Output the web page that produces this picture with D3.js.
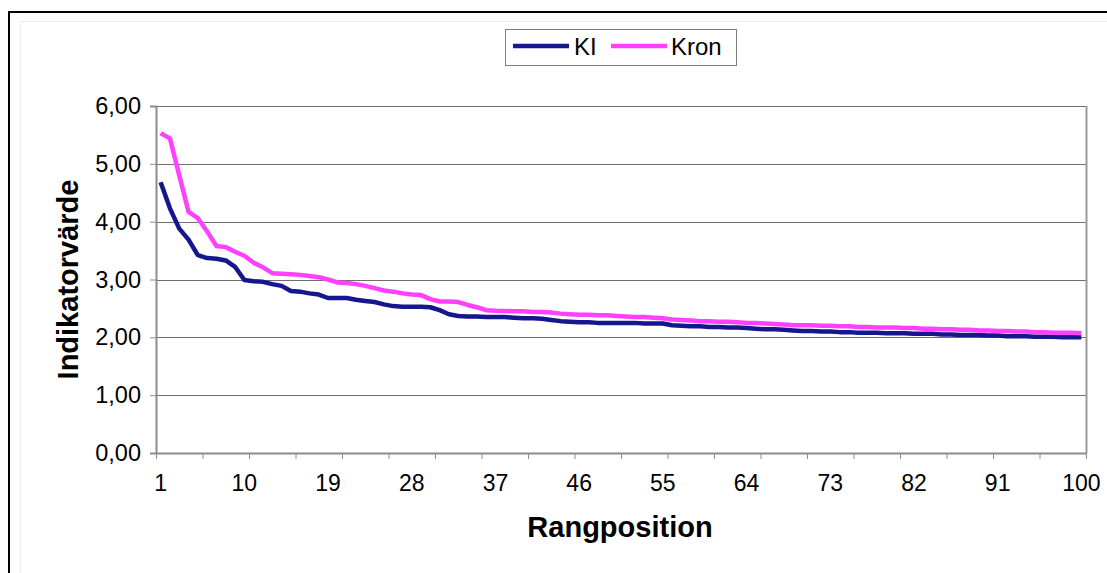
<!DOCTYPE html>
<html>
<head>
<meta charset="utf-8">
<script src="https://cdn.jsdelivr.net/npm/d3@7"></script>
<style>
  html, body { margin: 0; padding: 0; background: #fff; }
  svg { display: block; }
  text { font-family: "Liberation Sans", Arial, sans-serif; fill: #000; }
</style>
</head>
<body>
<svg id="chart" width="1107" height="573"></svg>
<script>
// Rank positions 1..100
const positions = d3.range(1, 101);

// Indicator value per rank position, series "KI"
const seriesKI = [
  4.68, 4.23, 3.88, 3.69, 3.42, 3.37, 3.36, 3.33, 3.22, 2.99,
  2.97, 2.96, 2.92, 2.89, 2.80, 2.79, 2.76, 2.74, 2.68, 2.68,
  2.68, 2.65, 2.63, 2.61, 2.57, 2.54, 2.53, 2.53, 2.53, 2.52,
  2.47, 2.40, 2.37, 2.36, 2.36, 2.35, 2.35, 2.35, 2.34, 2.33,
  2.33, 2.32, 2.30, 2.28, 2.27, 2.26, 2.26, 2.25, 2.25, 2.25,
  2.25, 2.25, 2.24, 2.24, 2.24, 2.21, 2.20, 2.19, 2.19, 2.18,
  2.18, 2.17, 2.17, 2.16, 2.15, 2.14, 2.14, 2.13, 2.12, 2.11,
  2.11, 2.10, 2.10, 2.09, 2.09, 2.08, 2.08, 2.08, 2.07, 2.07,
  2.07, 2.06, 2.06, 2.06, 2.05, 2.05, 2.04, 2.04, 2.04, 2.03,
  2.03, 2.02, 2.02, 2.02, 2.01, 2.01, 2.01, 2.00, 2.00, 2.00
];

// Indicator value per rank position, series "Kron"
const seriesKron = [
  5.53, 5.44, 4.80, 4.17, 4.06, 3.83, 3.58, 3.56, 3.48, 3.41,
  3.29, 3.21, 3.11, 3.10, 3.09, 3.08, 3.06, 3.04, 3.00, 2.95,
  2.94, 2.92, 2.89, 2.85, 2.81, 2.79, 2.76, 2.74, 2.73, 2.66,
  2.62, 2.62, 2.61, 2.56, 2.52, 2.47, 2.46, 2.455, 2.45, 2.45,
  2.44, 2.44, 2.43, 2.41, 2.40, 2.39, 2.39, 2.38, 2.38, 2.37,
  2.36, 2.35, 2.35, 2.34, 2.33, 2.31, 2.30, 2.29, 2.28, 2.28,
  2.27, 2.27, 2.26, 2.25, 2.25, 2.24, 2.23, 2.22, 2.21, 2.21,
  2.21, 2.20, 2.20, 2.19, 2.19, 2.18, 2.18, 2.17, 2.17, 2.17,
  2.16, 2.16, 2.15, 2.15, 2.14, 2.14, 2.13, 2.13, 2.12, 2.12,
  2.11, 2.11, 2.10, 2.10, 2.09, 2.09, 2.08, 2.08, 2.08, 2.07
];

const seriesNames = ["KI", "Kron"];
const yTickValues = [0, 1, 2, 3, 4, 5, 6];
const xLabelValues = [1, 10, 19, 28, 37, 46, 55, 64, 73, 82, 91, 100];
const xTickBoundaries = d3.range(0, 101, 5);

const colors = { KI: "#16168f", Kron: "#ff40ff" };

const svg = d3.select("#chart");
const plot = { left: 156, right: 1086, top: 106, bottom: 453 };

// Frame around the chart
svg.append("path")
  .attr("d", `M9,573 V12 H1107`)
  .attr("fill", "none").attr("stroke", "#000").attr("stroke-width", 2);
svg.append("path")
  .attr("d", `M20.5,573 V21.5 H1107`)
  .attr("fill", "none").attr("stroke", "#ececec").attr("stroke-width", 1);

// Scales
const x = d3.scaleBand().domain(positions).range([plot.left, plot.right]).padding(0);
const xBound = d3.scaleLinear().domain([0, 100]).range([plot.left, plot.right]);
const y = d3.scaleLinear().domain([0, 6]).range([plot.bottom, plot.top]);
const cx = d => x(d) + x.bandwidth() / 2;

const sv = d3.formatLocale({ decimal: ",", thousands: " ", grouping: [3], currency: ["", " kr"] });
const fmt = sv.format(".2f");

// Horizontal gridlines
svg.append("g")
  .selectAll("line")
  .data(yTickValues.filter(v => v > 0))
  .join("line")
  .attr("x1", plot.left).attr("x2", plot.right)
  .attr("y1", d => Math.round(y(d)) + 0.5).attr("y2", d => Math.round(y(d)) + 0.5)
  .attr("stroke", "#6e6e6e").attr("stroke-width", 1);

// Plot area right border
svg.append("line")
  .attr("x1", plot.right + 0.5).attr("x2", plot.right + 0.5)
  .attr("y1", plot.top).attr("y2", plot.bottom)
  .attr("stroke", "#9a9a9a").attr("stroke-width", 2);

// Y axis
const yAxis = svg.append("g")
  .attr("transform", `translate(${plot.left},0)`)
  .call(d3.axisLeft(y).tickValues(yTickValues).tickFormat(fmt).tickSize(6).tickPadding(9));
yAxis.select(".domain").attr("stroke", "#8c8c8c").attr("stroke-width", 2);
yAxis.selectAll(".tick line").attr("stroke", "#8c8c8c").attr("stroke-width", 1);
yAxis.selectAll(".tick text")
  .attr("font-family", "Liberation Sans, Arial, sans-serif")
  .attr("font-size", 23.5).attr("fill", "#000");

// X axis: tick marks on category boundaries every 5 positions
const xTicks = svg.append("g")
  .attr("transform", `translate(0,${plot.bottom})`)
  .call(d3.axisBottom(xBound).tickValues(xTickBoundaries).tickFormat("").tickSizeInner(6).tickSizeOuter(0));
xTicks.select(".domain").attr("stroke", "#8c8c8c").attr("stroke-width", 2);
xTicks.selectAll(".tick line").attr("stroke", "#8c8c8c").attr("stroke-width", 1);

// X axis labels centred on their categories
const xLabels = svg.append("g")
  .attr("transform", `translate(0,${plot.bottom})`)
  .call(d3.axisBottom(x).tickValues(xLabelValues).tickSize(0).tickPadding(22));
xLabels.select(".domain").remove();
xLabels.selectAll(".tick text")
  .attr("font-family", "Liberation Sans, Arial, sans-serif")
  .attr("font-size", 23).attr("fill", "#000");

// Series lines
const line = d3.line().x((d, i) => cx(positions[i])).y(d => y(d));
[["KI", seriesKI], ["Kron", seriesKron]].forEach(([name, vals]) => {
  svg.append("path")
    .datum(vals)
    .attr("d", line)
    .attr("fill", "none")
    .attr("stroke", colors[name])
    .attr("stroke-width", 4.5)
    .attr("stroke-linejoin", "round");
});

// Axis titles
svg.append("text")
  .attr("x", (plot.left + plot.right) / 2 - 1).attr("y", 537)
  .attr("text-anchor", "middle")
  .attr("font-size", 29).attr("font-weight", "bold")
  .text("Rangposition");

svg.append("text")
  .attr("transform", `translate(78,${(plot.top + plot.bottom) / 2}) rotate(-90)`)
  .attr("text-anchor", "middle")
  .attr("font-size", 29).attr("font-weight", "bold")
  .text("Indikatorvärde");

// Legend
const legend = svg.append("g");
legend.append("rect")
  .attr("x", 505.5).attr("y", 29.5).attr("width", 231).attr("height", 36)
  .attr("fill", "#fff").attr("stroke", "#808080").attr("stroke-width", 1);
const legendItems = [
  { name: seriesNames[0], x1: 513, x2: 569, tx: 574 },
  { name: seriesNames[1], x1: 611, x2: 667, tx: 671 }
];
legendItems.forEach(it => {
  legend.append("line")
    .attr("x1", it.x1).attr("x2", it.x2).attr("y1", 46).attr("y2", 46)
    .attr("stroke", colors[it.name]).attr("stroke-width", 4.5);
  legend.append("text")
    .attr("x", it.tx).attr("y", 55)
    .attr("font-size", 24)
    .text(it.name);
});
</script>
</body>
</html>
